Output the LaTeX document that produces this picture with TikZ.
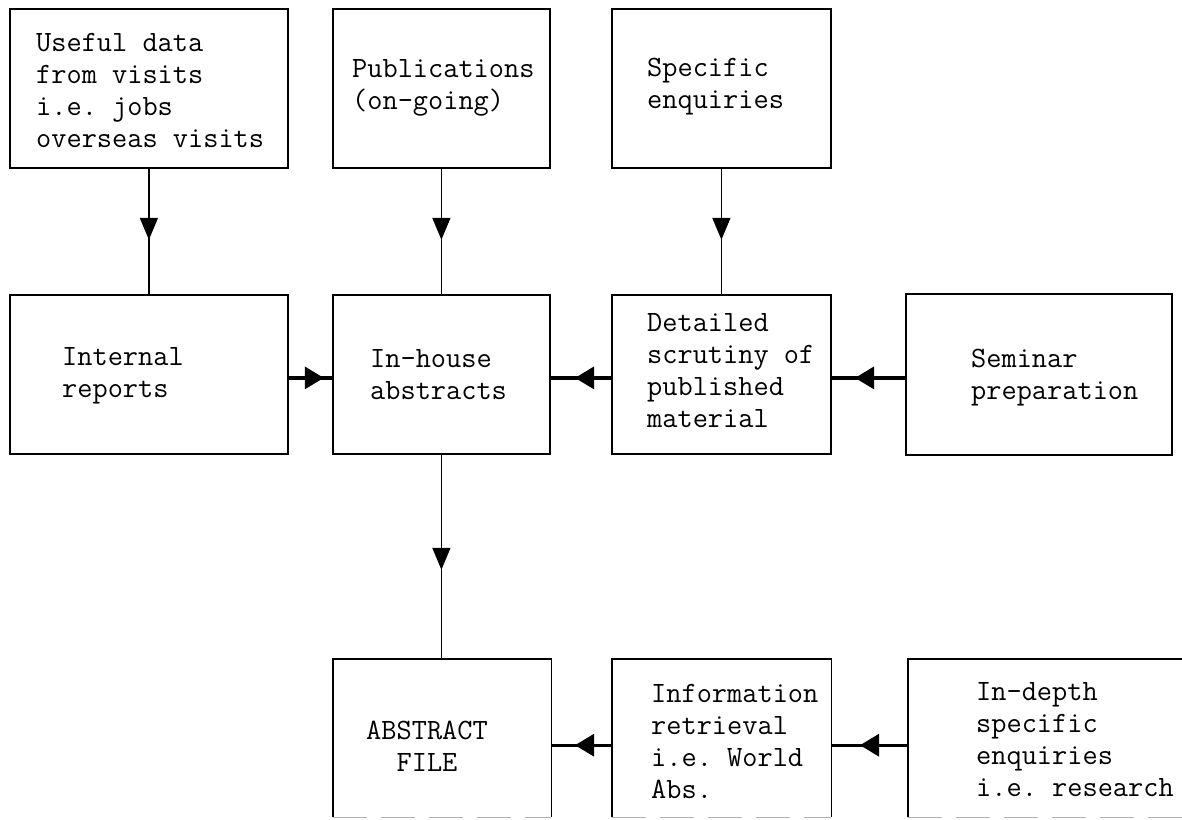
\documentclass[tikz,border=0pt]{standalone}
\usepackage{fontspec}
\usetikzlibrary{arrows.meta,decorations.markings}
\begin{document}
\begin{tikzpicture}[x=1pt,y=-1pt,
  box/.style={draw=black, line width=1.8pt, rectangle, inner sep=0pt, anchor=north west},
  openbox/.style={draw=none, rectangle, inner sep=0pt, anchor=north west},
  boxline/.style={draw=black, line width=1.8pt},
  faintline/.style={draw=black!30, line width=1.2pt, dash pattern=on 34pt off 14pt},
  lbl/.style={font=\ttfamily\fontsize{29.5}{32}\selectfont\addfontfeatures{FakeBold=0.9}\frenchspacing, align=left, anchor=west, inner sep=0pt, text=black},
  vconn/.style={draw=black, line width=1.6pt, postaction={decorate},
    decoration={markings, mark=at position #1 with {\arrow{Triangle[length=22pt,width=18pt]}}}},
  hconn/.style={draw=black, line width=3.2pt, postaction={decorate},
    decoration={markings, mark=at position #1 with {\arrow{Triangle[length=19pt,width=22pt]}}}}
]
\path[use as bounding box, clip] (0,0) rectangle (1182,819);
\fill[white] (0,0) rectangle (1182,819);

% top row
\node[box, minimum width=278pt, minimum height=159pt] (b1) at (9,8) {};
\node[box, minimum width=217pt, minimum height=159pt] (b2) at (332,8) {};
\node[box, minimum width=219pt, minimum height=159pt] (b3) at (611,8) {};
% middle row
\node[box, minimum width=278pt, minimum height=159pt] (m1) at (9,294) {};
\node[box, minimum width=217pt, minimum height=159pt] (m2) at (332,294) {};
\node[box, minimum width=219pt, minimum height=159pt] (m3) at (611,294) {};
\node[box, minimum width=266pt, minimum height=161pt] (m4) at (905,293) {};
% bottom row (cut by the lower edge)
\node[openbox, minimum width=218pt, minimum height=158pt] (a1) at (333,659) {};
\node[openbox, minimum width=219pt, minimum height=158pt] (a2) at (612,659) {};
\node[openbox, minimum width=300pt, minimum height=158pt] (a3) at (908,659) {};
\foreach \n in {a1,a2,a3}{
  \draw[boxline] (\n.south west) -- (\n.north west) -- (\n.north east) -- (\n.south east);
  \draw[faintline] (\n.south west) -- (\n.south east);
}

% texts
\node[lbl] (t1) at (36,90) {Useful data\\from visits\\i.e. jobs\\overseas visits};
\node[lbl] (t2) at (352,88) {Publications\\(on-going)};
\node[lbl] (t3) at (647,87) {Specific\\enquiries};
\node[lbl] (t4) at (62,376) {Internal\\reports};
\node[lbl] (t5) at (370,375) {In-house\\abstracts};
\node[lbl] (t6) at (647,371) {Detailed\\scrutiny of\\published\\material};
\node[lbl] (t7) at (971,378) {Seminar\\preparation};
\node[lbl, align=center, anchor=center] (t8) at (427,746) {ABSTRACT\\FILE};
\node[lbl] (t9) at (651,741) {Information\\retrieval\\i.e. World\\Abs.};
\node[lbl] (t10) at (976,740) {In-depth\\specific\\enquiries\\i.e. research};

% vertical connectors
\draw[vconn=71pt] (b1) -- (m1);
\draw[vconn=71pt] (b2) -- (m2);
\draw[vconn=71pt] (b3) -- (m3);
\draw[vconn=115pt] (m2.south) -- (m2.south |- a1.north);

% horizontal connectors
\draw[hconn=35pt] ([yshift=-3.5pt]m1.east) -- ([yshift=-3.5pt]m2.west);
\draw[hconn=36pt] ([yshift=-3.5pt]m3.west) -- ([yshift=-3.5pt]m2.east);
\draw[hconn=50pt] ([yshift=-3.5pt]m4.west) -- ([yshift=-3.5pt]m3.east);
\draw[hconn=37pt] ([yshift=-7pt]a2.west) -- ([yshift=-7pt]a1.east);
\draw[hconn=48pt] ([yshift=-7pt]a3.west) -- ([yshift=-7pt]a2.east);
\end{tikzpicture}
\end{document}
